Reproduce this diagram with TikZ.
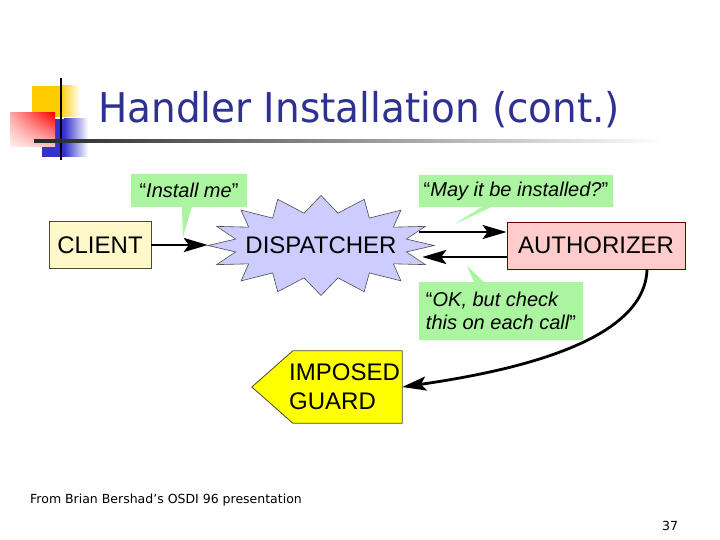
\documentclass[tikz,border=0pt]{standalone}
\usepackage{fontspec}
\setmainfont{Liberation Sans}
\newfontfamily\slidefont{DejaVu Sans}
\usetikzlibrary{arrows.meta,shapes.callouts,shadings}

\definecolor{titleblue}{RGB}{46,49,146}
\definecolor{logoyellow}{RGB}{255,204,0}
\definecolor{logoblue}{RGB}{51,51,204}
\definecolor{redpale}{RGB}{255,170,170}
\definecolor{redpaler}{RGB}{255,195,195}
\definecolor{redpalest}{RGB}{255,240,240}
\definecolor{saygreen}{RGB}{172,245,160}
\definecolor{clientfill}{RGB}{255,248,200}
\definecolor{authfill}{RGB}{255,204,204}
\definecolor{dispfill}{RGB}{204,204,255}
\definecolor{guardfill}{RGB}{255,255,0}

\begin{document}
\begin{tikzpicture}[x=1pt,y=-1pt,
  box/.style={draw=#1, line width=0.8pt, minimum height=47pt, inner sep=0pt,
    font=\fontsize{24}{26}\selectfont},
  say/.style={rectangle callout, fill=saygreen, inner sep=0pt,
    callout pointer width=10pt, font=\fontsize{20}{23}\selectfont\itshape},
  arr/.style={-{Stealth[length=24pt,width=14pt,inset=5pt]}, line width=2.8pt}]
   \useasboundingbox (0,0) rectangle (720,540);
   \fill[white] (0,0) rectangle (720,540);
   % title and logo
   \fill[logoyellow] (32,86) rectangle (60,117);
   \shade[left color=logoyellow, right color=white] (60,86) rectangle (80,117);
   \fill[logoblue] (42,119) rectangle (64,157);
   \shade[left color=logoblue, right color=white] (64,119) rectangle (88,157);
   \shade[upper right=red, upper left=redpale, lower right=redpaler,
     lower left=redpalest] (10,113) rectangle (55,147);
   \fill[black] (60,78) rectangle (62,160);
   \shade[left color=black!85, right color=white] (34,140) rectangle (665,142.5);
   \node[anchor=base west, inner sep=0pt, text=titleblue,
     font=\slidefont\fontsize{41}{45}\selectfont] (title) at (98,123)
     {\scalebox{0.95}[1]{Handler Installation (cont.)}};
   % diagram
   \node[box=black!60!olive, fill=clientfill, minimum width=102pt] (client) at (100,245) {CLIENT};
   \coordinate (burst) at (321,245.5);
   \filldraw[fill=dispfill, draw=black!70, line width=0.6pt, shift={(burst)}] (0:113pt and 50pt)
     \foreach \k in {0,...,15} { -- ({\k*22.5+11.25}:87pt and 33pt) -- ({\k*22.5+22.5}:113pt and 50pt) } -- cycle;
   \node[minimum width=226pt, minimum height=100pt, inner sep=0pt,
     font=\fontsize{24}{26}\selectfont] (disp) at (burst) {DISPATCHER};
   \node[box=black!60!red, fill=authfill, minimum width=178pt] (authorizer) at (596,245.5) {AUTHORIZER};
   \node[minimum width=150pt, minimum height=72pt, inner sep=0pt] (guard) at (327,387) {};
   \filldraw[fill=guardfill, draw=black!60!olive, line width=0.8pt] (guard.north east)
     -- ([xshift=41pt]guard.north west) -- (guard.west)
     -- ([xshift=41pt]guard.south west) -- (guard.south east) -- cycle;
   \node[anchor=west, align=left, inner sep=0pt, font=\fontsize{24}{29}\selectfont]
     (guardtext) at (289,387) {IMPOSED\\GUARD};
   \draw[arr] (client.east) -- (client.east -| disp.west);
   \draw[arr] ([xshift=-15pt,yshift=13.5pt]disp.east) -- ([yshift=13.5pt]authorizer.west);
   \draw[arr] ([yshift=-11.5pt]authorizer.west) -- ([xshift=-12pt,yshift=-11.5pt]disp.east);
   \draw[arr] ([xshift=51pt]authorizer.south) .. controls (645,340) and (520,370) .. (guard.east);
   % speech bubbles
   \node[say, minimum width=116pt, minimum height=33pt, callout absolute pointer={(183,237)}]
     (install) at (189,190.5) {{\upshape“}Install me{\upshape”}};
   \node[say, minimum width=194pt, minimum height=32pt, callout absolute pointer={(455,224)}]
     (ask) at (516,191) {{\upshape“}May it be installed?{\upshape”}};
   \node[say, minimum width=164pt, minimum height=58pt, align=left, callout absolute pointer={(467,266)}]
     (reply) at (501,311) {{\upshape“}OK, but check\\this on each call{\upshape”}};
   % footer
   \node[anchor=base west, inner sep=0pt, font=\slidefont\fontsize{12.5}{14}\selectfont]
     (source) at (30,503) {From Brian Bershad’s OSDI 96 presentation};
   \node[anchor=base west, inner sep=0pt, font=\slidefont\fontsize{12.5}{14}\selectfont]
     (page) at (662,530) {37};
\end{tikzpicture}
\end{document}
